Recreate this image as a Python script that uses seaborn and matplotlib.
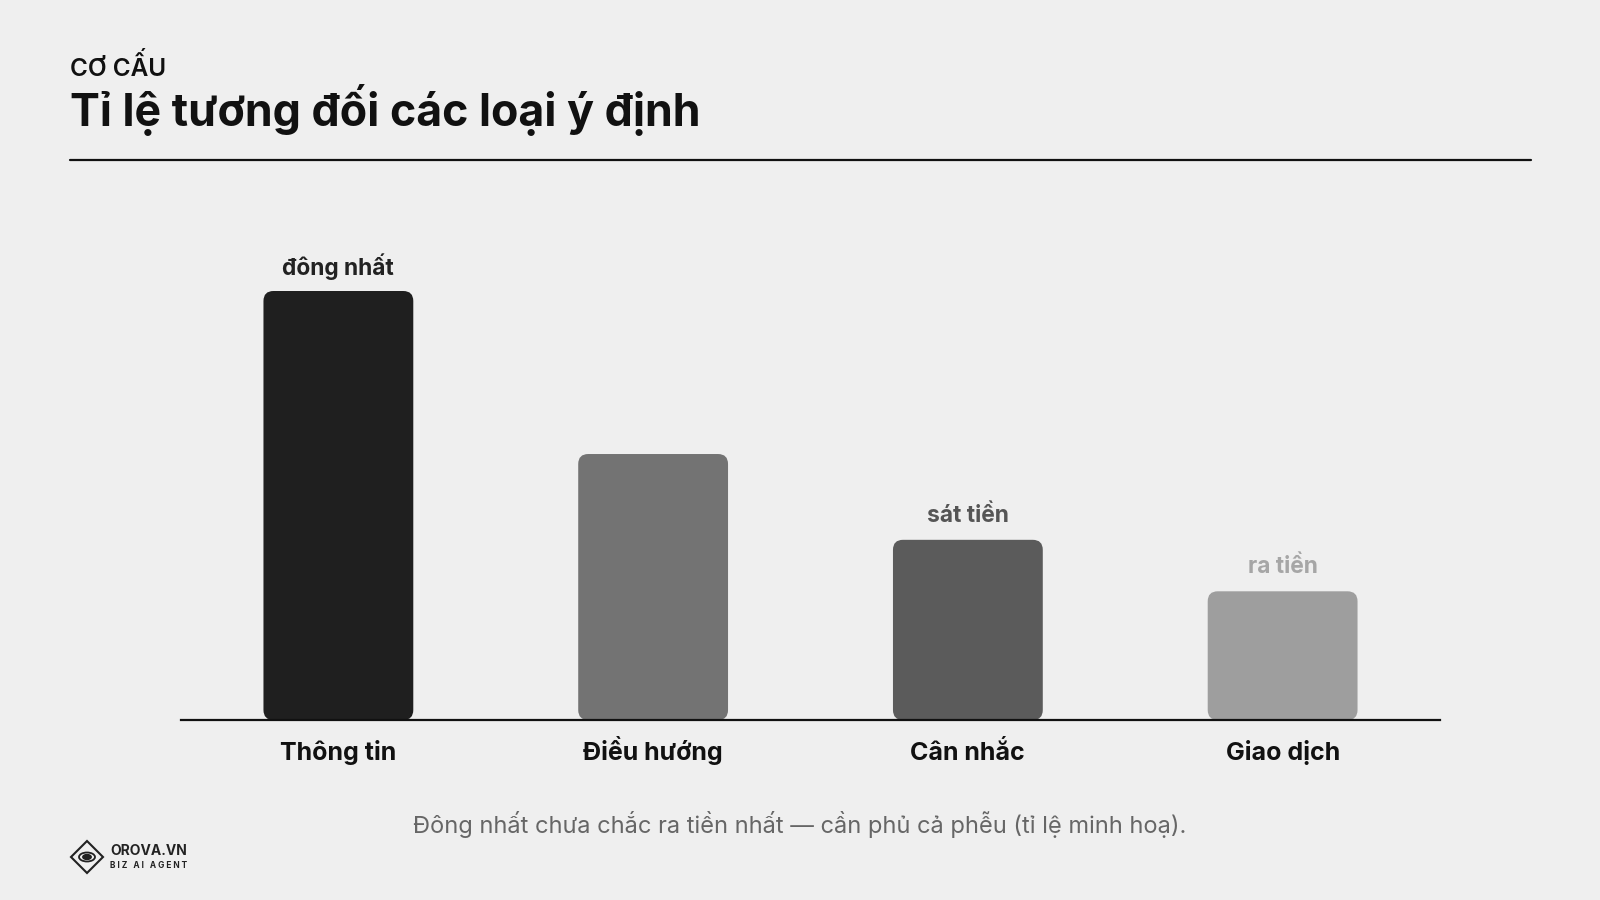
import matplotlib
matplotlib.use("Agg")
import matplotlib.pyplot as plt
import seaborn as sns
from matplotlib.patches import FancyBboxPatch, Polygon, Circle

# data
categories = ["Thông tin", "Điều hướng", "Cân nhắc", "Giao dịch"]
values = [100, 62, 42, 30]
bar_colors = ["#1f1f1f", "#737373", "#5b5b5b", "#9e9e9e"]
bar_notes = ["đông nhất", "", "sát tiền", "ra tiền"]
note_colors = ["#222222", "#555555", "#555555", "#a6a6a6"]

BG = "#efefef"
W, H = 1600, 900

sns.set_theme(style="white")
plt.rcParams["font.family"] = ["Inter", "DejaVu Sans"]

fig = plt.figure(figsize=(16, 9), dpi=100, facecolor=BG)


def fx(x):
    return x / W


def fy(y):
    return 1 - y / H


# axes placed in pixel terms: baseline y=720, x from 181 to 1440
ax = fig.add_axes([fx(181), fy(720), fx(1259), 120 * 4.29 / H])
ax.set_facecolor(BG)

sns.barplot(x=categories, y=values, hue=categories, palette=bar_colors,
            legend=False, width=0.476, ax=ax)
ax.set_xlim(-0.5, 3.5)
ax.set_ylim(0, 120)

# swap seaborn rectangles for rounded ones
r_x = 10 / 315.0
r_y = 10 / 4.29
for p in list(ax.patches):
    x0, y0 = p.get_x(), p.get_y()
    w, h = p.get_width(), p.get_height()
    fb = FancyBboxPatch((x0, y0), w, h,
                        boxstyle=f"round,pad=0,rounding_size={r_x}",
                        mutation_aspect=r_y / r_x,
                        facecolor=p.get_facecolor(), edgecolor="none", zorder=2)
    p.set_visible(False)
    ax.add_patch(fb)

# notes above bars
for i, (v, note) in enumerate(zip(values, bar_notes)):
    if note:
        ax.annotate(note, (i, v), xytext=(0, 24), textcoords="offset pixels",
                    ha="center", va="center", fontsize=16.4, fontweight="bold",
                    color=note_colors[i])

for s in ["top", "right", "left"]:
    ax.spines[s].set_visible(False)
ax.spines["bottom"].set_color("#111111")
ax.spines["bottom"].set_linewidth(1.6)
ax.set_yticks([])
ax.tick_params(axis="x", length=0, pad=28.8, labelsize=18, labelcolor="#111111")
for lab in ax.get_xticklabels():
    lab.set_fontweight("bold")
    lab.set_verticalalignment("baseline")
ax.set_xlabel("")
ax.set_ylabel("")

# header
fig.text(fx(70), fy(67), "CƠ CẤU", fontsize=17.5, color="#111111",
         ha="left", va="center", fontweight="semibold")
fig.text(fx(70), fy(110), "Tỉ lệ tương đối các loại ý định", fontsize=32.2,
         fontweight="bold", color="#111111", ha="left", va="center")
fig.add_artist(plt.Line2D([fx(70), fx(1531)], [fy(160), fy(160)],
                          color="#111111", linewidth=1.6))

# caption
fig.text(0.5, fy(825), "Đông nhất chưa chắc ra tiền nhất — cần phủ cả phễu (tỉ lệ minh hoạ).",
         fontsize=17, color="#666666", ha="center", va="center")

# logo
cx, cy = 87, 857
s = 16
fig.add_artist(Polygon([(fx(cx), fy(cy - s)), (fx(cx + s), fy(cy)),
                        (fx(cx), fy(cy + s)), (fx(cx - s), fy(cy))],
                       closed=True, fill=False, edgecolor="#222222", linewidth=1.5))
for rad, fill in [(8, False), (4, True)]:
    fig.add_artist(Circle((fx(cx), fy(cy)), rad / W, transform=fig.transFigure,
                          fill=fill, facecolor="#222222", edgecolor="#222222",
                          linewidth=1.3))
fig.text(fx(110), fy(851), "OROVA.VN", fontsize=10, fontweight="bold",
         color="#222222", ha="left", va="center")
fig.text(fx(110), fy(865), "B I Z   A I   A G E N T", fontsize=6, fontweight="bold",
         color="#222222", ha="left", va="center")

fig.savefig("out.png", dpi=100, facecolor=BG)
